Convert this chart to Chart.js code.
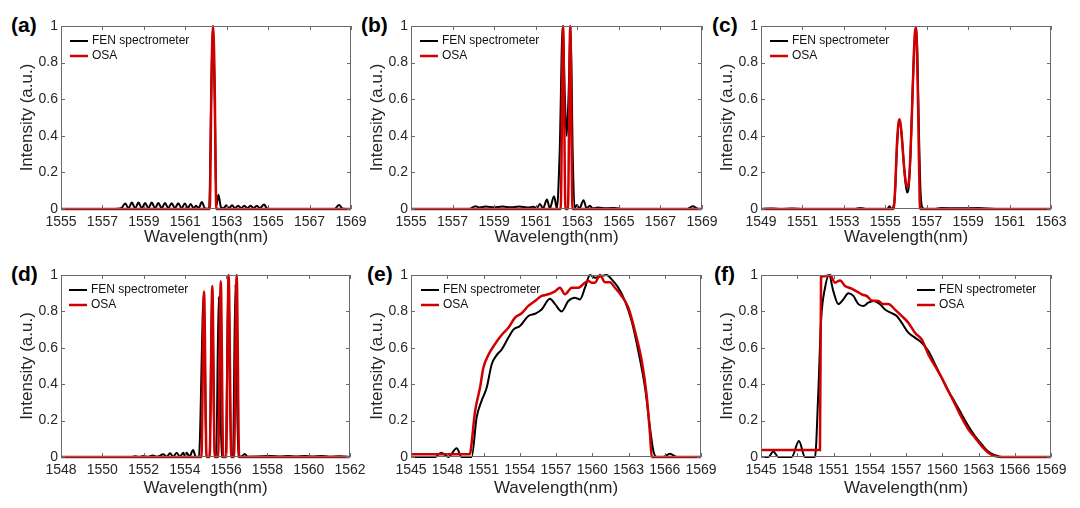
<!DOCTYPE html>
<html><head><meta charset="utf-8">
<script src="https://cdn.jsdelivr.net/npm/chart.js@4.4.0/dist/chart.umd.min.js"></script>
<style>
html,body{margin:0;padding:0;background:#fff;width:1080px;height:508px;overflow:hidden;position:relative;font-family:"Liberation Sans",Arial,sans-serif;}
canvas{position:absolute;}
.lbl{position:absolute;font-weight:bold;font-size:21px;line-height:22px;color:#000;font-family:"Liberation Sans",Arial,sans-serif;}
</style></head><body>
<div class="lbl" style="left:11px;top:14px">(a)</div>
<div class="lbl" style="left:361px;top:14px">(b)</div>
<div class="lbl" style="left:712px;top:14px">(c)</div>
<div class="lbl" style="left:11px;top:263px">(d)</div>
<div class="lbl" style="left:367px;top:263px">(e)</div>
<div class="lbl" style="left:714px;top:263px">(f)</div>
<script>
const seriesNames = ['FEN spectrometer', 'OSA'];
const yTicks = [0, 0.2, 0.4, 0.6, 0.8, 1];
const xTitle = 'Wavelength(nm)';
const yTitle = 'Intensity (a.u.)';

// (a)
const aTicks = [1555, 1557, 1559, 1561, 1563, 1565, 1567, 1569];
const aFenX = [1555,1557.6,1557.9,1558.1,1558.26,1558.42,1558.58,1558.74,1558.9,1559.06,1559.22,1559.38,1559.54,1559.7,1559.86,1560.02,1560.18,1560.34,1560.5,1560.66,1560.82,1560.98,1561.12,1561.26,1561.4,1561.52,1561.64,1561.8,1561.95,1562.15,1562.25,1562.33,1562.42,1562.5,1562.6,1562.72,1562.85,1562.98,1563.1,1563.26,1563.4,1563.55,1563.7,1563.85,1564.0,1564.15,1564.3,1564.45,1564.6,1564.8,1564.95,1565.2,1568.2,1568.42,1568.6,1569];
const aFenY = [0,0,0.004,0.03,0.004,0.035,0.004,0.035,0.004,0.033,0.004,0.035,0.004,0.033,0.004,0.033,0.004,0.032,0.004,0.032,0.004,0.03,0.004,0.028,0.004,0.018,0.004,0.038,0.003,0,0.6,1.0,0.6,0.02,0.078,0.01,0.004,0.02,0.004,0.02,0.004,0.018,0.004,0.018,0.004,0.018,0.004,0.018,0.004,0.024,0.003,0,0,0.022,0.002,0];
const aOsaX = [1555,1562.18,1562.27,1562.34,1562.41,1562.5,1569];
const aOsaY = [0,0,0.75,1.0,0.75,0,0];

// (b)
const bTicks = [1555, 1557, 1559, 1561, 1563, 1565, 1567, 1569];
const bFenX = [1555,1557.8,1558.1,1558.3,1558.6,1559.0,1559.4,1559.8,1560.2,1560.6,1560.9,1561.05,1561.2,1561.35,1561.54,1561.68,1561.88,1562.02,1562.15,1562.3,1562.4,1562.49,1562.58,1562.68,1562.78,1562.87,1562.98,1563.1,1563.3,1563.45,1563.6,1563.75,1564.0,1564.4,1564.8,1565.2,1568.3,1568.55,1568.8,1569];
const bFenY = [0,0,0.015,0.008,0.013,0.01,0.013,0.01,0.013,0.008,0.012,0.004,0.028,0.003,0.052,0.004,0.07,0.004,0.3,1.0,0.62,0.40,0.62,1.0,0.3,0.005,0.022,0.003,0.048,0.003,0.018,0.003,0.008,0.004,0.006,0,0,0.015,0.002,0];
const bOsaX = [1555,1562.2,1562.32,1562.43,1562.55,1562.66,1562.77,1569];
const bOsaY = [0,0,1.0,0,0,1.0,0,0];

// (c)
const cTicks = [1549, 1551, 1553, 1555, 1557, 1559, 1561, 1563];
const cFenX = [1549,1549.5,1550.0,1550.5,1551,1553.5,1553.8,1554.1,1555.1,1555.2,1555.3,1555.45,1555.55,1555.65,1555.72,1555.82,1555.95,1556.05,1556.12,1556.22,1556.32,1556.42,1556.48,1556.55,1556.62,1556.7,1556.78,1556.9,1557.4,1557.7,1558.5,1559.5,1560.3,1563];
const cFenY = [0,0.003,0,0.003,0,0,0.006,0,0,0.015,0,0.05,0.3,0.47,0.47,0.36,0.17,0.09,0.11,0.3,0.65,0.93,0.99,0.85,0.45,0.1,0.01,0,0,0.005,0.004,0.005,0,0];
const cOsaX = [1549,1555.4,1555.48,1555.56,1555.65,1555.7,1555.78,1555.9,1556.0,1556.08,1556.16,1556.28,1556.38,1556.46,1556.52,1556.6,1556.66,1556.7,1563];
const cOsaY = [0,0,0.12,0.35,0.48,0.49,0.42,0.24,0.14,0.12,0.18,0.5,0.85,0.99,0.92,0.45,0.05,0,0];

// (d)
const dTicks = [1548, 1550, 1552, 1554, 1556, 1558, 1560, 1562];
const dFenX = [1548,1551.4,1551.6,1551.8,1552.0,1552.2,1552.45,1552.65,1552.96,1553.12,1553.28,1553.44,1553.6,1553.76,1553.92,1554.0,1554.08,1554.22,1554.4,1554.52,1554.68,1554.92,1555.04,1555.2,1555.32,1555.44,1555.52,1555.64,1555.78,1555.98,1556.11,1556.24,1556.33,1556.45,1556.58,1556.75,1556.9,1557.05,1557.8,1558.2,1558.6,1559.0,1559.4,1559.8,1560.2,1560.6,1561.0,1561.5,1562];
const dFenY = [0,0,0.004,0,0.005,0,0.008,0.001,0.015,0.002,0.02,0.002,0.024,0.002,0.024,0.005,0.024,0.003,0.038,0.002,0,0.9,0,0,0.93,0,0,0.88,0,0,1.0,0,0,0.95,0,0.003,0.016,0.002,0.004,0.006,0.003,0.006,0.003,0.006,0.003,0.005,0.002,0.004,0];
const dOsaX = [1548,1554.8,1554.93,1555.05,1555.2,1555.33,1555.45,1555.61,1555.74,1555.86,1556.0,1556.12,1556.25,1556.38,1556.51,1556.63,1562];
const dOsaY = [0,0,0.91,0,0,0.94,0,0,0.965,0,0,1.0,0,0,1.0,0,0];

// (e)
const eTicks = [1545, 1548, 1551, 1554, 1557, 1560, 1563, 1566, 1569];
const eFenX = [1545,1546.99,1547.48,1548.09,1548.78,1549.19,1550.02,1550.43,1550.85,1551.26,1551.68,1552.09,1552.5,1553.06,1553.47,1554.02,1554.71,1555.26,1555.81,1556.5,1556.92,1557.47,1558.02,1558.57,1558.99,1559.4,1559.81,1560.23,1560.78,1561.19,1561.61,1562.16,1562.71,1563.26,1563.81,1564.37,1564.78,1565.06,1565.33,1565.88,1566.43,1566.99,1569];
const eFenY = [0,0,0.024,0,0.048,0,0,0.216,0.31,0.38,0.51,0.56,0.59,0.656,0.70,0.72,0.775,0.787,0.81,0.87,0.84,0.80,0.857,0.875,0.866,0.93,1.0,0.985,0.995,1.0,0.976,0.93,0.857,0.747,0.582,0.38,0.16,0.033,0,0,0.018,0,0];
const eOsaX = [1545,1549.88,1549.97,1550.3,1550.71,1550.99,1551.4,1551.95,1552.5,1553.06,1553.61,1554.16,1554.71,1555.26,1555.81,1556.37,1556.92,1557.33,1557.74,1558.3,1558.85,1559.4,1559.68,1559.95,1560.23,1560.64,1561.06,1561.47,1561.88,1562.43,1562.99,1563.54,1564.09,1564.5,1564.78,1564.92,1569];
const eOsaY = [0.015,0.015,0.05,0.25,0.38,0.49,0.56,0.62,0.67,0.71,0.766,0.79,0.83,0.857,0.885,0.894,0.91,0.93,0.894,0.93,0.93,0.958,0.967,0.958,0.958,1.0,0.96,0.96,0.93,0.885,0.82,0.69,0.53,0.34,0.125,0,0];

// (f)
const fTicks = [1545, 1548, 1551, 1554, 1557, 1560, 1563, 1566, 1569];
const fFenX = [1545,1545.61,1546.02,1546.43,1547.54,1548.14,1548.64,1549.47,1549.74,1549.97,1550.3,1550.63,1550.99,1551.4,1551.81,1552.23,1552.64,1553.06,1553.47,1553.88,1554.3,1554.85,1555.26,1555.81,1556.23,1556.64,1557.19,1557.74,1558.3,1558.85,1559.4,1559.95,1560.5,1561.06,1561.61,1562.16,1562.71,1563.26,1563.81,1564.37,1564.92,1569];
const fFenY = [0,0,0.03,0,0,0.088,0,0,0.35,0.75,0.93,1.0,0.91,0.84,0.866,0.90,0.885,0.84,0.83,0.848,0.857,0.84,0.81,0.79,0.775,0.738,0.683,0.656,0.628,0.582,0.51,0.436,0.363,0.30,0.234,0.17,0.115,0.07,0.03,0.01,0,0];
const fOsaX = [1545,1549.88,1549.97,1550.43,1550.71,1551.12,1551.54,1551.95,1552.5,1552.92,1553.33,1553.74,1554.16,1554.71,1555.12,1555.54,1556.09,1556.64,1557.19,1557.74,1558.3,1558.85,1559.4,1559.95,1560.5,1561.06,1561.61,1562.16,1562.71,1563.26,1563.81,1564.37,1564.92,1569];
const fOsaY = [0.038,0.038,0.99,0.995,1.0,0.958,0.97,0.94,0.925,0.91,0.894,0.885,0.86,0.857,0.84,0.84,0.81,0.775,0.738,0.683,0.646,0.564,0.50,0.436,0.363,0.29,0.216,0.152,0.106,0.06,0.024,0.005,0,0];

const panels = [
  {L:61, R:351, T:26, B:209, ticks:aTicks, fx:aFenX, fy:aFenY, ox:aOsaX, oy:aOsaY, side:'left', dx:9, tOff:28.5},
  {L:411, R:702, T:26, B:209, ticks:bTicks, fx:bFenX, fy:bFenY, ox:bOsaX, oy:bOsaY, side:'left', dx:9, tOff:28.5},
  {L:761, R:1051, T:26, B:209, ticks:cTicks, fx:cFenX, fy:cFenY, ox:cOsaX, oy:cOsaY, side:'left', dx:9, tOff:28.5},
  {L:61, R:350, T:275, B:457, ticks:dTicks, fx:dFenX, fy:dFenY, ox:dOsaX, oy:dOsaY, side:'left', dx:8, tOff:31},
  {L:411, R:701, T:275, B:457, ticks:eTicks, fx:eFenX, fy:eFenY, ox:eOsaX, oy:eOsaY, side:'left', dx:10, tOff:31},
  {L:761, R:1051, T:275, B:457, ticks:fTicks, fx:fFenX, fy:fFenY, ox:fOsaX, oy:fOsaY, side:'right', dx:134, tOff:31}
];

const FONT = '"Liberation Sans", Arial, sans-serif';
const TXT = '#262626';
const FEN_COLOR = '#000000';
const OSA_COLOR = '#d00000';

const framePlugin = {
  id: 'frame',
  afterDraw(chart, args, opts) {
    const ctx = chart.ctx;
    const {left, right, top, bottom} = chart.chartArea;
    const xs = chart.scales.x, ys = chart.scales.y;
    ctx.save();
    ctx.strokeStyle = '#6a6a6a';
    ctx.lineWidth = 1;
    ctx.strokeRect(left + 0.5, top + 0.5, right - left - 1, bottom - top - 1);
    ctx.beginPath();
    xs.ticks.forEach(t => {
      const px = Math.round(xs.getPixelForValue(t.value)) + 0.5;
      ctx.moveTo(px, bottom); ctx.lineTo(px, bottom - 4);
      ctx.moveTo(px, top); ctx.lineTo(px, top + 4);
    });
    ys.ticks.forEach(t => {
      const py = Math.round(ys.getPixelForValue(t.value)) + 0.5;
      ctx.moveTo(left, py); ctx.lineTo(left + 4, py);
      ctx.moveTo(right, py); ctx.lineTo(right - 4, py);
    });
    ctx.stroke();
    // legend
    const x0 = opts.side === 'left' ? left + opts.dx : right - opts.dx;
    ctx.font = '12px ' + FONT;
    ctx.textBaseline = 'middle';
    ctx.textAlign = 'left';
    chart.data.datasets.forEach((ds, i) => {
      const yy = top + 15 + i * 15;
      ctx.strokeStyle = ds.borderColor;
      ctx.lineWidth = ds.borderWidth;
      ctx.beginPath(); ctx.moveTo(x0, yy); ctx.lineTo(x0 + 18, yy); ctx.stroke();
      ctx.fillStyle = '#111';
      ctx.fillText(ds.label, x0 + 22, yy);
    });
    ctx.restore();
  }
};

const PADL = 62, PADT = 12, PADR = 24, PADB = 45;
panels.forEach(p => {
  const cv = document.createElement('canvas');
  const w = (p.R - p.L) + PADL + PADR;
  const h = (p.B - p.T) + PADT + PADB;
  cv.width = w; cv.height = h;
  cv.style.width = w + 'px'; cv.style.height = h + 'px';
  cv.style.left = (p.L - PADL) + 'px';
  cv.style.top = (p.T - PADT) + 'px';
  document.body.appendChild(cv);
  const tickArr = p.ticks;
  new Chart(cv.getContext('2d'), {
    type: 'line',
    data: {
      datasets: [
        {label: seriesNames[0], data: p.fx.map((x, i) => ({x: x, y: p.fy[i]})), borderColor: FEN_COLOR, borderWidth: 2, pointRadius: 0, cubicInterpolationMode: 'monotone', fill: false, order: 1, clip: 2},
        {label: seriesNames[1], data: p.ox.map((x, i) => ({x: x, y: p.oy[i]})), borderColor: OSA_COLOR, borderWidth: 2.5, pointRadius: 0, cubicInterpolationMode: 'monotone', fill: false, order: 0, clip: 2}
      ]
    },
    options: {
      responsive: false,
      animation: false,
      devicePixelRatio: 1,
      layout: {padding: {left: 0, top: PADT, right: PADR, bottom: 0}},
      plugins: {legend: {display: false}, tooltip: {enabled: false}, frame: {side: p.side, dx: p.dx}},
      scales: {
        x: {
          type: 'linear', min: tickArr[0], max: tickArr[tickArr.length - 1],
          afterBuildTicks: s => { s.ticks = tickArr.map(v => ({value: v})); },
          afterFit: s => { s.height = PADB; },
          grid: {display: false, drawTicks: false},
          border: {display: false},
          ticks: {autoSkip: false, maxRotation: 0, minRotation: 0, padding: 5, color: TXT, font: {family: FONT, size: 14}, callback: v => String(v)},
          title: {display: true, text: xTitle, color: TXT, font: {family: FONT, size: 17}, padding: {top: 0, bottom: PADB - p.tOff - 10.2}}
        },
        y: {
          type: 'linear', min: 0, max: 1,
          afterBuildTicks: s => { s.ticks = yTicks.map(v => ({value: v})); },
          afterFit: s => { s.width = PADL; },
          grid: {display: false, drawTicks: false},
          border: {display: false},
          ticks: {padding: 3, color: TXT, font: {family: FONT, size: 14}, callback: v => String(Math.round(v * 10) / 10)},
          title: {display: true, text: yTitle, color: TXT, font: {family: FONT, size: 17}, padding: {top: 18, bottom: 0}}
        }
      }
    },
    plugins: [framePlugin]
  });
});
</script>
</body></html>
